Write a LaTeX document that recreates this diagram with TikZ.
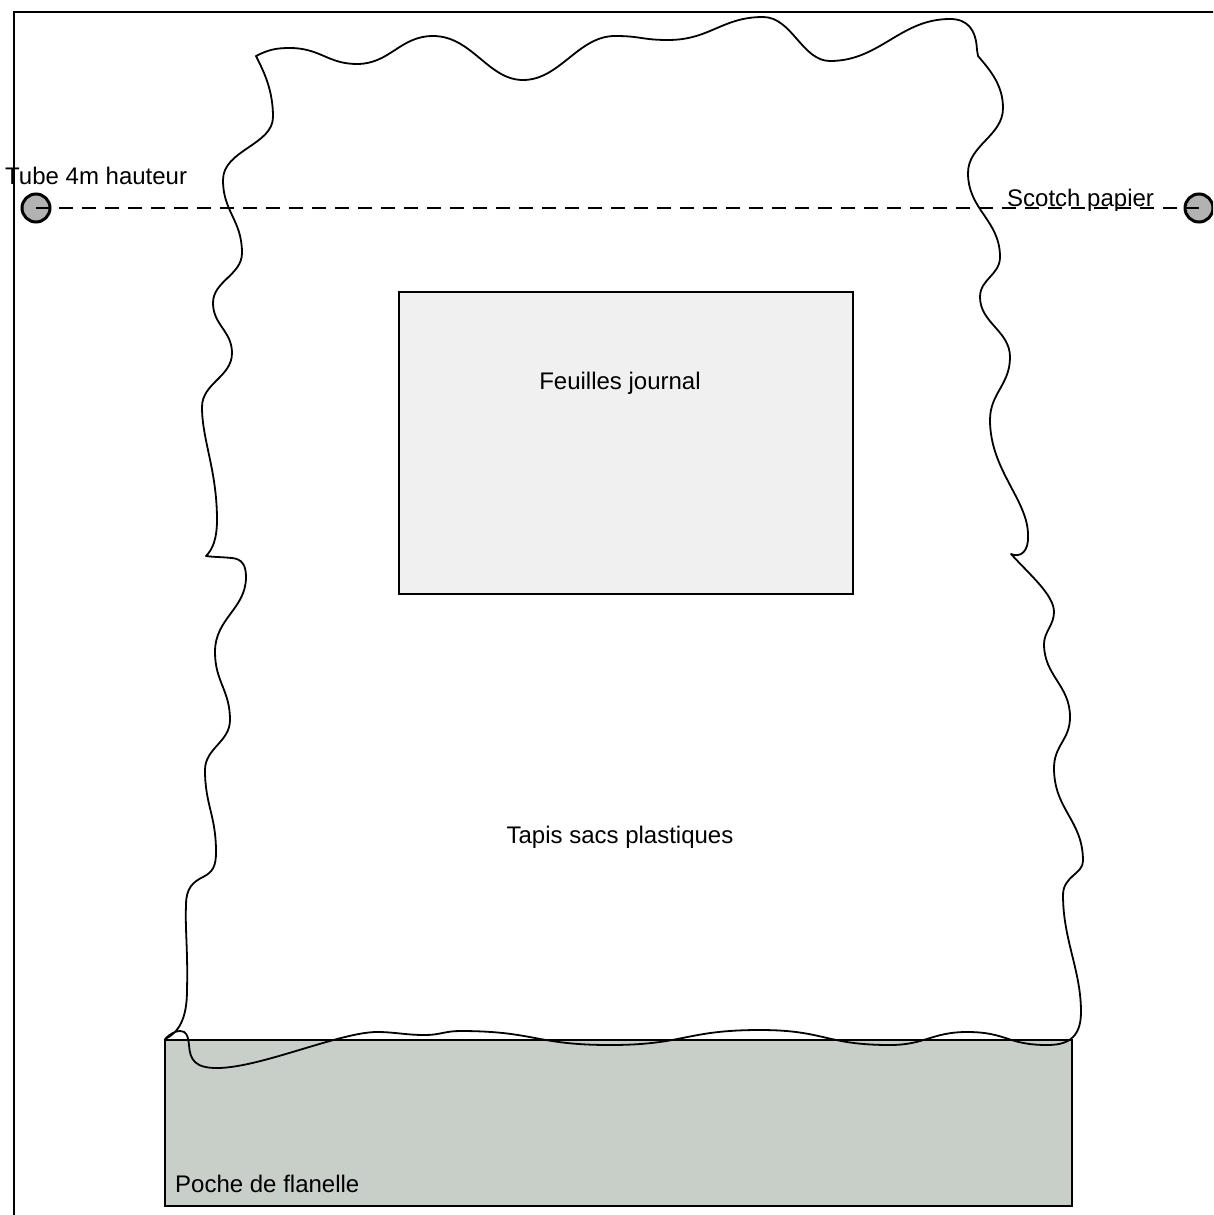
\documentclass[tikz,border=0pt]{standalone}
\usepackage{fontspec}
\setmainfont{Liberation Sans}
\definecolor{journalfill}{RGB}{240,240,240}
\definecolor{pochefill}{RGB}{200,207,200}
\definecolor{tubefill}{RGB}{178,178,178}
\begin{document}
\begin{tikzpicture}[x=1pt,y=-1pt,
  frame/.style={line width=1.8pt},
  rectbox/.style={draw, line width=1.8pt, rectangle, inner sep=0pt},
  tube/.style={draw, circle, line width=3pt, fill=tubefill, minimum size=28pt, inner sep=0pt},
  tape/.style={line width=1.4pt, dash pattern=on 14pt off 9pt},
  outline/.style={line width=1.8pt, line join=round},
  lbl/.style={inner sep=0pt, font=\fontsize{24}{28}\selectfont}]
\useasboundingbox (0,0) rectangle (1213,1215);
\clip (0,0) rectangle (1213,1215);
\fill[white] (0,0) rectangle (1213,1215);
% frame
\draw[frame] (1240,12) -- (14,12) -- (14,1240);
% rectangles
\node[rectbox, fill=pochefill, minimum width=907pt, minimum height=166pt] (poche) at (618.5,1123) {};
\node[rectbox, fill=journalfill, minimum width=454pt, minimum height=302pt] (journal) at (626,443) {};
% wavy plastic carpet outline
\draw[outline]
  % top edge
  (256,56) .. controls (268,50) and (275,48) .. (290,48)
  .. controls (320,48) and (328,64) .. (357,64)
  .. controls (390,64) and (400,36) .. (433,36)
  .. controls (472,36) and (488,80) .. (523,80)
  .. controls (560,80) and (578,36) .. (615,36)
  .. controls (641,36) and (642,40) .. (668,40)
  .. controls (710,40) and (722,17) .. (763,17)
  .. controls (792,17) and (802,61) .. (830,61)
  .. controls (880,61) and (900,19) .. (950,19)
  .. controls (968,19) and (976,30) .. (977,50) -- (978,56)
  % right edge
  .. controls (990,70) and (1003,85) .. (1003,108)
  .. controls (1003,136) and (968,145) .. (968,173)
  .. controls (968,210) and (1000,220) .. (1000,257)
  .. controls (1000,275) and (980,279) .. (980,297)
  .. controls (980,323) and (1010,331) .. (1010,357)
  .. controls (1010,385) and (990,393) .. (990,420)
  .. controls (990,470) and (1028,500) .. (1028,535)
  .. controls (1029,552) and (1020,558) .. (1011,554)
  .. controls (1030,575) and (1054,595) .. (1054,612)
  .. controls (1054,625) and (1044,632) .. (1044,644)
  .. controls (1044,676) and (1070,685) .. (1070,717)
  .. controls (1070,740) and (1054,745) .. (1054,768)
  .. controls (1054,810) and (1083,820) .. (1083,861)
  .. controls (1083,874) and (1063,876) .. (1063,895)
  .. controls (1063,940) and (1081,970) .. (1081,1012)
  .. controls (1081,1040) and (1065,1045) .. (1047,1045)
  % bottom edge
  .. controls (1007,1045) and (1007,1032) .. (967,1032)
  .. controls (932,1032) and (925,1045) .. (890,1045)
  .. controls (825,1045) and (825,1030) .. (760,1030)
  .. controls (685,1030) and (685,1045) .. (610,1045)
  .. controls (535,1045) and (535,1031) .. (460,1031)
  .. controls (445,1031) and (440,1035) .. (425,1035)
  .. controls (405,1035) and (395,1032) .. (377,1032)
  .. controls (340,1032) and (260,1068) .. (217,1068)
  .. controls (195,1068) and (190,1060) .. (189,1045)
  .. controls (188,1035) and (186,1031) .. (180,1031)
  .. controls (175,1031) and (170,1034) .. (165,1039)
  % left edge
  .. controls (178,1033) and (187,1020) .. (187,990)
  .. controls (188,950) and (185,930) .. (186,905)
  .. controls (186,888) and (193,882) .. (203,877)
  .. controls (213,872) and (216,866) .. (216,852)
  .. controls (216,815) and (205,805) .. (205,770)
  .. controls (205,748) and (230,742) .. (230,720)
  .. controls (230,690) and (215,682) .. (215,652)
  .. controls (215,618) and (246,609) .. (246,577)
  .. controls (246,565) and (242,559) .. (232,558)
  .. controls (222,557) and (212,557) .. (206,556)
  .. controls (212,550) and (217,540) .. (217,520)
  .. controls (217,470) and (202,440) .. (202,407)
  .. controls (202,383) and (232,377) .. (232,353)
  .. controls (232,331) and (213,325) .. (213,303)
  .. controls (213,281) and (242,275) .. (242,253)
  .. controls (242,220) and (223,212) .. (223,180)
  .. controls (223,150) and (273,145) .. (273,117)
  .. controls (273,90) and (264,72) .. (256,56)
  -- cycle;
% tubes and tape
\node[tube] (tubeL) at (36,208) {};
\node[tube] (tubeR) at (1199,208) {};
\draw[tape] (tubeL.center) -- (tubeR.center);
% labels
\node[lbl, anchor=base west] (tubetxt) at (5,184) {Tube 4m hauteur};
\node[lbl, anchor=base west] (scotchtxt) at (1007,206) {Scotch papier};
\node[lbl, anchor=base] (journaltxt) at (620,389) {Feuilles journal};
\node[lbl, anchor=base] (tapistxt) at (620,843) {Tapis sacs plastiques};
\node[lbl, anchor=base west] (pochetxt) at (175,1192) {Poche de flanelle};
\end{tikzpicture}
\end{document}
